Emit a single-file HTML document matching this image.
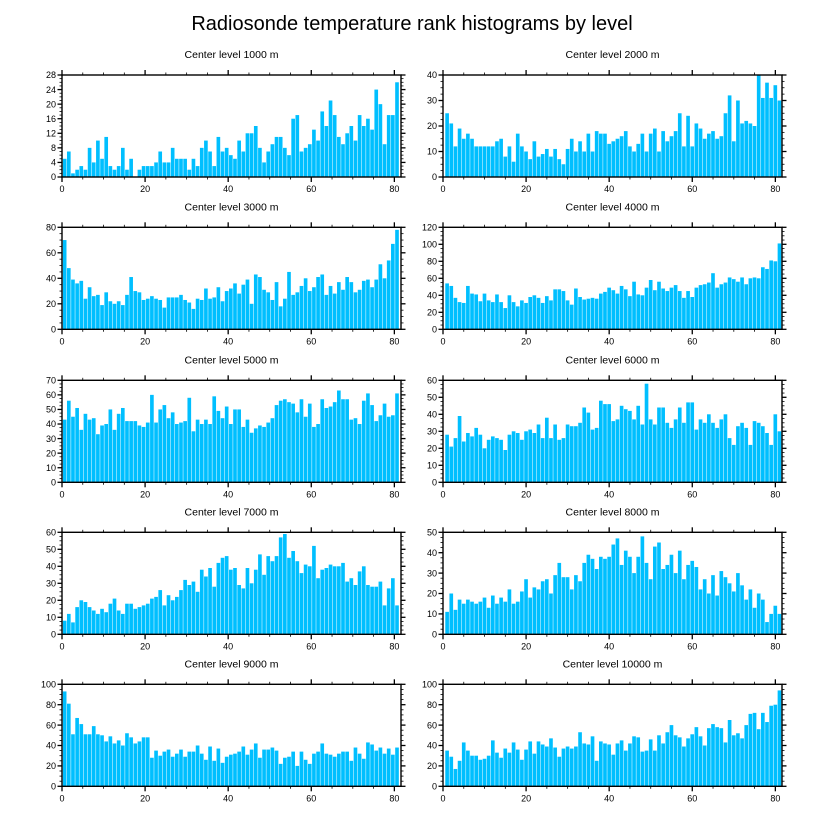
<!DOCTYPE html>
<html><head><meta charset="utf-8">
<style>
html,body{margin:0;padding:0;background:#fff;}
svg{display:block;font-family:"Liberation Sans",Arial,sans-serif;}
</style></head>
<body>
<svg id="chart" width="824" height="824" viewBox="0 0 824 824" xmlns="http://www.w3.org/2000/svg">
<text x="412" y="30" text-anchor="middle" font-size="20">Radiosonde temperature rank histograms by level</text>
</svg>
<script>
const levels = ["1000","2000","3000","4000","5000","6000","7000","8000","9000","10000"];
const yMaxes = [28,40,80,120,70,60,60,50,100,100];
const yStepMaj = [4,10,20,20,10,10,10,10,20,20];
const xTicks = [0,20,40,60,80];
const v1000 = [5,7,1,2,3,2,8,4,10,5,11,3,2,3,8,2,5,0,2,3,3,3,4,7,4,4,8,5,5,5,2,5,3,8,10,7,3,11,7,8,6,5,10,7,12,12,14,8,4,7,9,11,11,8,6,16,17,7,8,9,13,10,18,14,21,17,11,9,12,14,10,17,14,16,13,24,20,9,17,17,26];
const v2000 = [25,21,12,19,15,17,15,12,12,12,12,12,14,15,8,12,6,17,12,10,7,14,8,9,11,8,11,7,5,11,15,10,14,10,17,10,18,17,17,13,14,15,16,18,12,10,13,17,10,17,19,10,18,14,16,18,25,12,24,12,21,19,15,17,18,15,16,25,32,14,30,21,22,21,20,40,31,37,31,36,30];
const v3000 = [70,48,39,36,38,24,33,26,27,19,29,22,20,22,19,27,41,30,29,23,24,26,24,23,17,25,25,25,27,23,21,16,24,23,32,24,25,33,22,30,32,36,28,35,39,20,43,41,31,29,23,37,18,24,45,27,29,34,40,30,33,41,43,27,34,28,37,31,41,37,29,31,38,39,33,39,51,40,54,67,78];
const v4000 = [54,51,37,32,31,51,42,41,33,42,34,32,41,32,25,40,32,27,34,31,38,40,37,31,39,34,47,47,45,34,29,48,38,35,36,37,36,42,44,49,46,42,51,47,39,56,41,40,49,58,46,56,48,45,49,52,45,37,45,38,49,52,53,55,66,49,53,55,61,59,56,61,53,60,61,60,73,71,81,80,101];
const v5000 = [43,56,45,51,36,47,43,44,33,39,40,50,36,47,51,42,42,42,39,38,41,60,41,50,53,44,48,40,41,42,58,35,43,40,43,40,59,49,44,52,40,50,50,38,43,34,37,39,38,41,44,53,56,57,55,54,48,57,45,54,38,40,57,51,52,55,63,57,57,43,44,40,56,61,53,42,46,54,45,46,61];
const v6000 = [28,21,26,39,24,29,27,32,28,20,25,27,26,25,19,28,30,29,25,30,31,29,34,26,38,26,34,25,26,34,33,33,35,44,41,31,32,48,46,46,36,37,45,43,42,37,45,34,58,37,34,44,44,35,32,37,44,35,47,47,31,37,35,40,35,32,37,40,26,22,33,35,32,22,36,35,33,29,22,40,30];
const v7000 = [8,12,7,16,20,19,16,14,12,15,13,18,21,14,12,18,18,15,16,17,18,21,22,26,17,23,20,22,26,32,29,31,25,38,34,39,28,42,45,46,38,39,29,27,39,30,38,47,35,46,43,46,57,59,45,49,43,36,41,40,52,33,38,39,41,40,40,42,31,33,29,37,40,29,28,28,31,17,27,33,17];
const v8000 = [11,20,12,17,15,17,16,15,16,18,13,19,15,18,16,22,15,16,21,27,18,23,22,26,27,20,29,35,28,28,22,29,26,35,39,37,32,38,37,38,44,47,34,41,38,30,38,48,35,27,43,45,32,34,39,30,41,27,34,36,33,22,27,20,29,19,31,28,25,21,30,24,17,22,13,20,17,6,10,14,10];
const v9000 = [93,81,51,67,61,51,51,59,51,50,44,49,42,45,40,52,48,42,44,48,48,28,35,30,34,36,29,32,36,29,34,34,40,32,26,39,25,37,23,29,31,32,34,39,31,36,42,28,36,36,38,35,22,28,29,34,20,34,26,22,32,34,42,32,31,29,32,34,34,25,38,32,27,43,41,35,38,32,37,31,38];
const v10000 = [35,29,17,25,43,35,30,30,26,27,30,45,33,28,37,33,43,36,26,36,44,32,44,41,39,47,38,29,37,39,37,39,53,42,41,49,25,44,42,41,31,42,45,35,42,49,48,34,35,46,35,50,42,53,60,50,48,39,47,51,58,49,40,57,61,58,57,43,65,50,52,47,60,71,72,56,72,63,79,80,94];
const series = [v1000,v2000,v3000,v4000,v5000,v6000,v7000,v8000,v9000,v10000];

const NS = "http://www.w3.org/2000/svg";
const svg = document.getElementById("chart");
function mk(tag, attrs, parent){ const e=document.createElementNS(NS,tag); for(const k in attrs) e.setAttribute(k,attrs[k]); (parent||svg).appendChild(e); return e; }

const XMAX = 81.6;
const colX = [62, 443];
const colW = 339;
const rowY = [75, 227.3, 380.3, 532.3, 684.3];
const H = 102;

series.forEach((vals, p) => {
  const col = p % 2, row = Math.floor(p/2);
  const x0 = colX[col], y0 = rowY[row], W = colW;
  const off = col === 0 ? 0.2 : 0.55;
  const ymax = yMaxes[p];
  const g = mk("g", {});
  
  
  const xs = v => x0 + v / XMAX * W;
  const ys = v => y0 + H - v / ymax * H;
  const t = mk("text", {x: x0 + W/2, y: y0 - 17, "text-anchor": "middle", "font-size": "10.5"}, g);
  t.textContent = "Center level " + levels[p] + " m";
  
  
  vals.forEach((v, i) => {
    const xl = xs(i + off), xr = xs(i + off + 0.88);
    const r = mk("rect", {x: xl, y: ys(Math.min(v, ymax)), width: Math.max(0, Math.min(xr, x0+W) - xl), height: ys(0) - ys(Math.min(v, ymax)), fill: "#00BFFF"}, g);
    
    
  });
  const fr = mk("rect", {x: x0, y: y0, width: W, height: H, fill: "none", stroke: "#000", "stroke-width": "1.4"}, g);
  
  
  // x ticks
  for (let v = 0; v <= 80; v += 5) {
    const major = v % 20 === 0, L = major ? 5 : 2.5;
    const X = xs(v);
    mk("line", {x1: X, x2: X, y1: y0 + H, y2: y0 + H + L, stroke: "#000", "stroke-width": major ? 1.3 : 0.8}, g);
    mk("line", {x1: X, x2: X, y1: y0, y2: y0 - L, stroke: "#000", "stroke-width": major ? 1.3 : 0.8}, g);
  }
  xTicks.forEach(v => {
    const tl = mk("text", {x: xs(v), y: y0 + H + 15, "text-anchor": "middle", "font-size": "9"}, g);
    tl.textContent = v;
    
    
  });
  // y ticks
  const st = yStepMaj[p], ms = st / 4;
  for (let k = 0; k * ms <= ymax + 1e-9; k++) {
    const v = k * ms, major = k % 4 === 0, L = major ? 4.5 : 2.5;
    const Y = ys(v);
    mk("line", {x1: x0, x2: x0 - L, y1: Y, y2: Y, stroke: "#000", "stroke-width": major ? 1.3 : 0.8}, g);
    mk("line", {x1: x0 + W, x2: x0 + W + L, y1: Y, y2: Y, stroke: "#000", "stroke-width": major ? 1.3 : 0.8}, g);
    if (major) {
      const yl = mk("text", {x: x0 - 6, y: Y + 3.2, "text-anchor": "end", "font-size": "9"}, g);
      yl.textContent = v;
      
      
    }
  }
});
</script>
</body></html>
